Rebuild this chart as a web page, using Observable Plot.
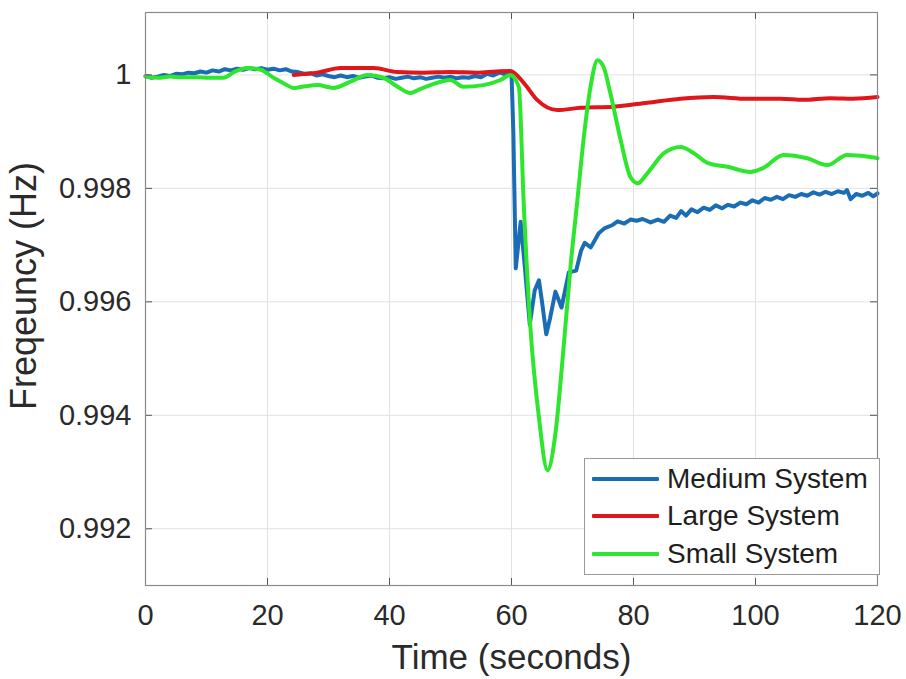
<!DOCTYPE html>
<html>
<head>
<meta charset="utf-8">
<script src="https://cdn.jsdelivr.net/npm/d3@7"></script>
<script src="https://cdn.jsdelivr.net/npm/@observablehq/plot@0.6"></script>
<style>
  body { margin: 0; background: #fff; }
  #wrap { position: relative; width: 906px; height: 679px; font-family: "Liberation Sans", Arial, Helvetica, sans-serif; }
  .legend { position: absolute; left: 584px; top: 458px; width: 296px; height: 117px; border: 1px solid #9a9a9a; background: #fff; box-sizing: border-box; padding-top: 1px; }
  .legend .row { display: flex; align-items: center; height: 37.5px; }
  .legend .sw { width: 67px; height: 4px; margin-left: 7px; margin-right: 8px; border-radius: 1px; }
  .legend .lab { font-size: 28px; color: #1e1e1e; white-space: nowrap; }
</style>
</head>
<body>
<div id="wrap"></div>
<script>
// ---- data (time in seconds, frequency in Hz) ----
const seriesNames = ["Medium System", "Large System", "Small System"];
const seriesColors = ["#1a6db5", "#e0161d", "#2ee62e"];

const mediumSystem = [
  [0,0.99998],[1,0.99995],[2,0.99997],[3,1.00000],[4,0.99998],[5,1.00002],[6,1.00001],[7,1.00004],
  [8,1.00003],[9,1.00006],[10,1.00004],[11,1.00008],[12,1.00006],[13,1.00010],[14,1.00008],[15,1.00011],
  [16,1.00009],[17,1.00012],[18,1.00010],[19,1.00012],[20,1.00009],[21,1.00011],[22,1.00008],[23,1.00010],
  [24,1.00006],[25,1.00005],[26,1.00002],[27,1.00003],[28,0.99999],[29,1.00001],[30,0.99998],[31,0.99996],
  [32,0.99999],[33,0.99996],[34,0.99998],[35,0.99995],[36,0.99997],[37,0.99999],[38,0.99995],[39,0.99994],
  [40,0.99996],[41,0.99993],[42,0.99995],[43,0.99997],[44,0.99994],[45,0.99996],[46,0.99993],[47,0.99995],
  [48,0.99997],[49,0.99995],[50,0.99997],[51,0.99994],[52,0.99996],[53,0.99995],[54,0.99998],[55,0.99996],
  [56,1.00002],[57,0.99999],[58,1.00004],[59,1.00001],[60,1.00003],[60.3,0.99900],[60.7,0.99659],
  [61.5,0.99741],[62.2,0.99660],[63.0,0.99560],[63.8,0.99620],[64.5,0.99638],[65.0,0.99600],[65.7,0.99543],
  [66.3,0.99570],[67.2,0.99618],[68.2,0.99590],[69.4,0.99652],[70.6,0.99655],[71.4,0.99690],[72.0,0.99704],
  [73.0,0.99696],[74.3,0.99721],[75.3,0.99730],[76.5,0.99735],[77.4,0.99742],[78.5,0.99738],[79.5,0.99745],
  [80.5,0.99743],[81.5,0.99746],[82.8,0.99740],[84.0,0.99745],[85.0,0.99741],[86.0,0.99752],[87.0,0.99748],
  [87.8,0.99760],[88.6,0.99752],[89.5,0.99763],[90.5,0.99758],[91.5,0.99766],[92.5,0.99762],[93.5,0.99770],
  [94.5,0.99765],[95.5,0.99771],[96.5,0.99768],[97.5,0.99775],[98.5,0.99772],[99.5,0.99779],[100.5,0.99775],
  [101.5,0.99783],[102.5,0.99780],[103.5,0.99785],[104.5,0.99781],[105.5,0.99788],[106.5,0.99785],
  [107.5,0.99790],[108.5,0.99787],[109.5,0.99793],[110.5,0.99789],[111.5,0.99794],[112.5,0.99790],
  [113.5,0.99795],[114.5,0.99792],[115.0,0.99797],[115.6,0.99781],[116.5,0.99790],[117.5,0.99787],
  [118.5,0.99792],[119.3,0.99786],[120,0.99791]
];

const largeSystem = [
  [24.3,1.00000],[28.2,1.00004],[32,1.00012],[37.4,1.00012],[41.3,1.00005],[45.6,1.00004],[50,1.00005],
  [54.4,1.00004],[57.5,1.00006],[59.8,1.00007],[62,0.99986],[64.2,0.99956],[67.5,0.99938],[71.3,0.99942],
  [76.7,0.99944],[82.3,0.99951],[87.7,0.99958],[93.1,0.99961],[98.7,0.99958],[104.1,0.99958],
  [107.9,0.99956],[112.3,0.99959],[116,0.99958],[120,0.99961]
];

const smallSystem = [
  [0,0.99997],[2,0.99995],[4,0.99997],[6,0.99996],[8.5,0.99996],[10.5,0.99995],[12.8,0.99995],
  [14.5,1.00005],[16.7,1.00012],[18.9,1.00009],[21,0.99995],[22.7,0.99985],[24.3,0.99977],[26.2,0.99980],
  [28.2,0.99982],[30.8,0.99977],[33.6,0.99988],[36.4,1.00000],[39,0.99995],[41.2,0.99980],[43.4,0.99968],
  [45,0.99975],[46.7,0.99982],[50,0.99991],[52.1,0.99979],[55.4,0.99982],[58.2,0.99991],[59.8,1.00000],
  [61.2,0.99979],[62,0.99774],[63.1,0.99555],[64.5,0.99396],[65.9,0.99303],[67.2,0.99368],[68.5,0.99515],
  [69.7,0.99665],[70.8,0.99779],[71.8,0.99885],[73,0.99982],[74.1,1.00026],[75.1,1.00014],[76.2,0.99968],
  [77.9,0.99885],[79.5,0.99820],[80.7,0.99809],[82.3,0.99827],[85,0.99862],[87.7,0.99873],[89.9,0.99862],
  [92.1,0.99845],[95.4,0.99838],[99.2,0.99829],[101.3,0.99836],[104.6,0.99859],[108.5,0.99853],
  [111.8,0.99841],[115,0.99859],[119.7,0.99854],[120,0.99853]
];

const xTicks = [0, 20, 40, 60, 80, 100, 120];
const xTickLabels = ["0", "20", "40", "60", "80", "100", "120"];
const yTicks = [0.992, 0.994, 0.996, 0.998, 1];
const yTickLabels = ["0.992", "0.994", "0.996", "0.998", "1"];
const xLabel = "Time (seconds)";
const yLabel = "Freqeuncy (Hz)";

// ---- build ----
const W = 906, H = 679, mL = 145, mR = 29, mT = 12, mB = 94;
const plotW = W - mL - mR, plotH = H - mT - mB;
const toRows = (arr) => arr.map(([t, f]) => ({t, f}));
const font = "'Liberation Sans', Arial, Helvetica, sans-serif";
const tickColor = "#555";

const chart = Plot.plot({
  width: W, height: H,
  marginLeft: mL, marginRight: mR, marginTop: mT, marginBottom: mB,
  x: {domain: [0, 120]},
  y: {domain: [0.991, 1.0011]},
  style: {fontFamily: font, background: "#fff", color: "#2a2a2a", overflow: "visible"},
  marks: [
    Plot.ruleX(xTicks, {stroke: "#e2e2e2", strokeWidth: 1}),
    Plot.ruleY(yTicks, {stroke: "#e2e2e2", strokeWidth: 1}),
    Plot.line(toRows(mediumSystem), {x: "t", y: "f", stroke: seriesColors[0], strokeWidth: 4, strokeLinejoin: "round"}),
    Plot.line(toRows(largeSystem), {x: "t", y: "f", stroke: seriesColors[1], strokeWidth: 4, curve: "monotone-x"}),
    Plot.line(toRows(smallSystem), {x: "t", y: "f", stroke: seriesColors[2], strokeWidth: 4, curve: "monotone-x"}),
    Plot.ruleX(xTicks, {insetTop: plotH - 7, stroke: tickColor}),
    Plot.ruleX(xTicks, {insetBottom: plotH - 7, stroke: tickColor}),
    Plot.ruleY(yTicks, {insetRight: plotW - 7, stroke: tickColor}),
    Plot.ruleY(yTicks, {insetLeft: plotW - 7, stroke: tickColor}),
    Plot.frame({stroke: "#8a8a8a", strokeWidth: 1.2}),
    Plot.axisX(xTicks, {tickSize: 0, tickPadding: 19, fontSize: 29, tickFormat: (d, i) => xTickLabels[i], label: null}),
    Plot.axisY(yTicks, {tickSize: 0, tickPadding: 14, fontSize: 29, tickFormat: (d, i) => yTickLabels[i], label: null}),
    Plot.text([xLabel], {frameAnchor: "bottom", dy: 83, fontSize: 35, fill: "#2a2a2a"}),
    Plot.text([yLabel], {frameAnchor: "left", textAnchor: "middle", rotate: -90, dx: -121, dy: -13, fontSize: 36, fill: "#2a2a2a"})
  ]
});

const wrap = document.getElementById("wrap");
wrap.appendChild(chart);

const legend = document.createElement("div");
legend.className = "legend";
seriesNames.forEach((name, i) => {
  const row = document.createElement("div");
  row.className = "row";
  const sw = document.createElement("div");
  sw.className = "sw";
  sw.style.background = seriesColors[i];
  const lab = document.createElement("span");
  lab.className = "lab";
  lab.textContent = name;
  row.appendChild(sw);
  row.appendChild(lab);
  legend.appendChild(row);
});
wrap.appendChild(legend);
</script>
</body>
</html>
